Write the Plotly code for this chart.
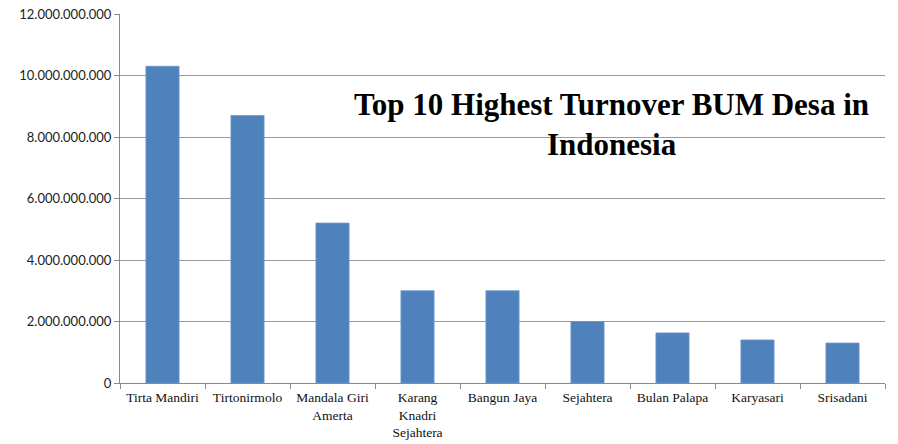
import plotly.graph_objects as go

categories = ["Tirta Mandiri", "Tirtonirmolo", "Mandala Giri<br>Amerta", "Karang<br>Knadri<br>Sejahtera",
              "Bangun Jaya", "Sejahtera", "Bulan Palapa", "Karyasari", "Srisadani"]
turnover = [10.3e9, 8.7e9, 5.2e9, 3.0e9, 3.0e9, 2.0e9, 1.63e9, 1.4e9, 1.3e9]
y_ticks = [0, 2e9, 4e9, 6e9, 8e9, 10e9, 12e9]
title_text = "Top 10 Highest Turnover BUM Desa in<br>Indonesia"

fig = go.Figure(go.Bar(
    x=categories, y=turnover,
    marker=dict(color="#4F81BD", line=dict(color="#6F97CC", width=0.8)),
    width=0.39,
))

fig.update_layout(
    width=898, height=444,
    margin=dict(l=120, r=13, t=14, b=61),
    paper_bgcolor="white", plot_bgcolor="white",
    separators=",.",
    showlegend=False,
    annotations=[dict(
        text=title_text, xref="paper", yref="paper", x=0.6425, y=0.7,
        xanchor="center", yanchor="middle", showarrow=False, align="center",
        font=dict(family="Liberation Serif", size=31, color="black", weight="bold"),
    )],
)
fig.update_yaxes(
    range=[0, 12e9], tickvals=y_ticks, tickformat=",d", automargin=False,
    showgrid=True, gridcolor="#9a9a9a", gridwidth=1,
    showline=True, linecolor="#8a8a8a", linewidth=1,
    ticks="outside", ticklen=5, tickcolor="#8a8a8a",
    tickfont=dict(family="Lato", size=13, color="#222"),
    zeroline=False,
)
fig.update_xaxes(
    showline=True, linecolor="#8a8a8a", linewidth=1, automargin=False,
    ticks="outside", ticklen=5, tickcolor="#8a8a8a", tickson="boundaries",
    ticklabelstandoff=2,
    tickfont=dict(family="Liberation Serif", size=13.5, color="#111"),
    showgrid=False,
)

fig.write_html("out.html")
